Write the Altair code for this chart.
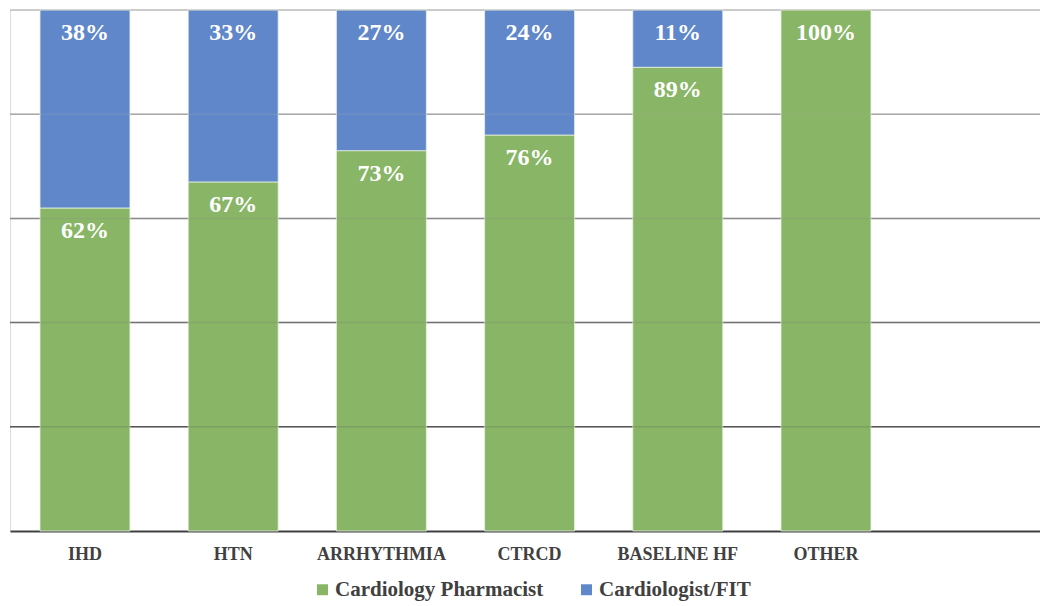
import altair as alt
import pandas as pd

# Share of referrals by indication
categories = ["IHD", "HTN", "ARRHYTHMIA", "CTRCD", "BASELINE HF", "OTHER"]
pharmacist = [62, 67, 73, 76, 89, 100]
cardiologist = [38, 33, 27, 24, 11, 0]
series = ["Cardiology Pharmacist", "Cardiologist/FIT"]
colors = ["#88B566", "#5F87C9"]

grid_values = [20, 40, 60, 80, 100]
grid_colors = ["#555555", "#727272", "#8c8c8c", "#a8a8a8", "#c2c2c2"]

# x domain keeps one empty slot on the right
x_domain = categories + [" "]

rows = []
for c, p, d in zip(categories, pharmacist, cardiologist):
    rows.append({"cat": c, "series": series[0], "lo": 0, "hi": p, "val": p})
    if d > 0:
        rows.append({"cat": c, "series": series[1], "lo": p, "hi": p + d, "val": d})
df = pd.DataFrame(rows)
df["label"] = df["val"].astype(str) + "%"

grid_df = pd.DataFrame({"v": grid_values, "col": grid_colors})

x_scale = alt.Scale(domain=x_domain, paddingInner=0.393, paddingOuter=0.1716, align=0.59)

x_enc = alt.X(
    "cat:N",
    scale=x_scale,
    sort=x_domain,
    axis=alt.Axis(
        title=None,
        labelAngle=0,
        labelFont="Liberation Serif",
        labelFontWeight="bold",
        labelFontSize=18,
        labelColor="#404040",
        labelPadding=14,
        labelLimit=0,
        ticks=False,
        domainColor="#404040",
        domainWidth=2,
        grid=False,
    ),
)
y_scale = alt.Scale(domain=[0, 100], nice=False)

grid_under = (
    alt.Chart(grid_df)
    .mark_rule(strokeWidth=1.5)
    .encode(y=alt.Y("v:Q", scale=y_scale, axis=None), color=alt.Color("col:N", scale=None))
)
grid_over = (
    alt.Chart(grid_df)
    .mark_rule(strokeWidth=1.5, opacity=0.22)
    .encode(y=alt.Y("v:Q", scale=y_scale, axis=None), color=alt.Color("col:N", scale=None))
)

bars = (
    alt.Chart(df)
    .mark_bar(stroke="#e8f0e0", strokeWidth=1, strokeOpacity=0.8)
    .encode(
        x=x_enc,
        y=alt.Y("lo:Q", scale=y_scale, axis=None),
        y2="hi:Q",
        color=alt.Color(
            "series:N",
            scale=alt.Scale(domain=series, range=colors),
            legend=alt.Legend(
                title=None,
                orient="none",
                legendX=302,
                legendY=569,
                direction="horizontal",
                symbolType="square",
                symbolSize=120,
                symbolStrokeWidth=0,
                labelFont="Liberation Serif",
                labelFontWeight="bold",
                labelFontSize=21,
                labelColor="#404040",
                labelLimit=0,
                columnPadding=32,
                labelOffset=2,
            ),
        ),
    )
)

labels = (
    alt.Chart(df)
    .mark_text(
        font="Liberation Serif",
        fontWeight="bold",
        fontSize=24,
        color="white",
        baseline="middle",
        dy=23,
    )
    .encode(
        x=alt.X("cat:N", scale=x_scale, sort=x_domain),
        y=alt.Y("hi:Q", scale=y_scale, axis=None),
        text="label:N",
    )
)

chart = (
    alt.layer(grid_under, bars, grid_over, labels)
    .properties(
        width=1030,
        height=521,
        padding={"left": 10, "top": 10, "right": 0, "bottom": 75},
        autosize=alt.AutoSizeParams(type="none"),
    )
    .configure_view(stroke=None)
    .configure(background="white")
)

chart.save("out.html", embed_options={"renderer": "svg", "actions": False})
